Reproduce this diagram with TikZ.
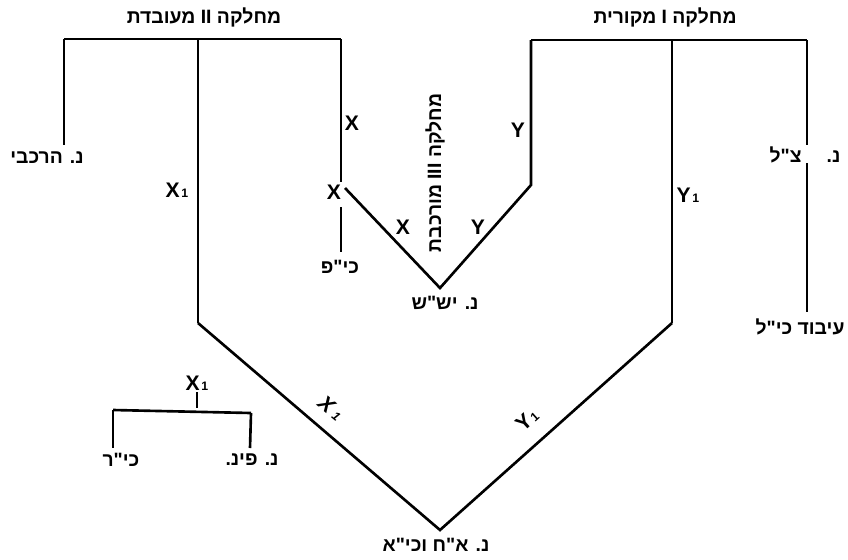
\documentclass[tikz,border=0pt]{standalone}
\usepackage{fontspec}
\setmainfont{Liberation Sans}
\newfontfamily\hebfont[Script=Hebrew]{Liberation Sans}
\TeXXeTstate=1
\usetikzlibrary{positioning}
\newcommand{\heb}[1]{{\hebfont\beginR #1\endR}}
\newcommand{\sub}[1]{\kern1pt{\scriptsize #1}}

\begin{document}
\begin{tikzpicture}[x=0.02cm,y=-0.02cm,
  stem/.style={line width=1.5pt},
  heblbl/.style={font=\bfseries\fontsize{11}{13}\selectfont,inner sep=1pt},
  varlbl/.style={font=\bfseries\fontsize{12}{14}\selectfont,inner sep=1pt}]
\useasboundingbox (0,0) rectangle (848,559);

% class II
\node[heblbl] (tII) at (204,17) {\heb{מחלקה \beginL II\endL{} מעובדת}};
\coordinate (a1) at (64,39);
\coordinate (a2) at (198,39);
\coordinate (a3) at (341,39);
\coordinate (a1e) at (64,145);
\coordinate (a2e) at (198,323);
\coordinate (a3e) at (341,182);
\draw[stem] (a1) -- (a3);
\draw[stem] (a1) -- (a1e);
\draw[stem] (a2) -- (a2e);
\draw[stem] (a3) -- (a3e);
\node[heblbl] (har) at (47,158) {\heb{נ. הרכבי}};
\node[varlbl] (x1a) at (177,190) {X\sub{1}};
\node[varlbl] (xa) at (352,123) {X};

% class III
\node[heblbl,rotate=90] (tIII) at (435,173) {\heb{מחלקה \beginL III\endL{} מורכבת}};
\node[varlbl] (xm) at (334,192) {X};
\coordinate (kpt) at (341,207);
\coordinate (kpb) at (341,252);
\draw[stem] (kpt) -- (kpb);
\node[heblbl] (kp) at (340,267) {\heb{כי"פ}};
\coordinate (xd) at (345,188);
\coordinate (ysh) at (440,288);
\coordinate (b1) at (531,40);
\coordinate (b1e) at (531,185);
\draw[stem] (xd) -- (ysh) -- (b1e) -- (b1);
\node[varlbl] (xb) at (403,227) {X};
\node[varlbl] (yb) at (478,227) {Y};
\node[varlbl] (ya) at (518,130) {Y};
\node[heblbl] (yss) at (445,303) {\heb{נ. יש"ש}};

% class I
\node[heblbl] (tI) at (665,17) {\heb{מחלקה \beginL I\endL{} מקורית}};
\coordinate (b2) at (672,40);
\coordinate (b3) at (807,40);
\coordinate (b2e) at (672,323);
\coordinate (b3m) at (807,145);
\coordinate (b3n) at (807,163);
\coordinate (b3e) at (807,312);
\draw[stem] (b1) -- (b3);
\draw[stem] (b2) -- (b2e);
\draw[stem] (b3) -- (b3m);
\draw[stem] (b3n) -- (b3e);
\node[heblbl] (tsl) at (805,155) {\heb{נ.\hspace{1.3em}צ"ל}};
\node[heblbl] (ib) at (800,327) {\heb{עיבוד כי"ל}};
\node[varlbl] (y1a) at (688,195) {Y\sub{1}};

% common root
\coordinate (bot) at (440,530);
\draw[stem] (a2e) -- (bot) -- (b2e);
\node[varlbl,rotate=-40] (x1b) at (331,408) {\itshape X\kern2.5pt{\scriptsize 1}};
\node[varlbl,rotate=42] (y1b) at (527,420) {Y\sub{1}};
\node[heblbl] (ah) at (436,545) {\heb{נ. א"ח וכי"א}};

% sub-branch of X1
\node[varlbl] (x1c) at (197,383) {X\sub{1}};
\coordinate (c0) at (197,408);
\coordinate (c1) at (113,410);
\coordinate (c2) at (251,413);
\coordinate (c1e) at (113,448);
\coordinate (c2e) at (250,448);
\draw[stem] (x1c) -- (c0);
\draw[stem] (c1) -- (c2);
\draw[stem] (c1) -- (c1e);
\draw[stem] (c2) -- (c2e);
\node[heblbl] (kr) at (121,460) {\heb{כי"ר}};
\node[heblbl] (pin) at (252,460) {\heb{נ. פינ.}};
\end{tikzpicture}
\end{document}
